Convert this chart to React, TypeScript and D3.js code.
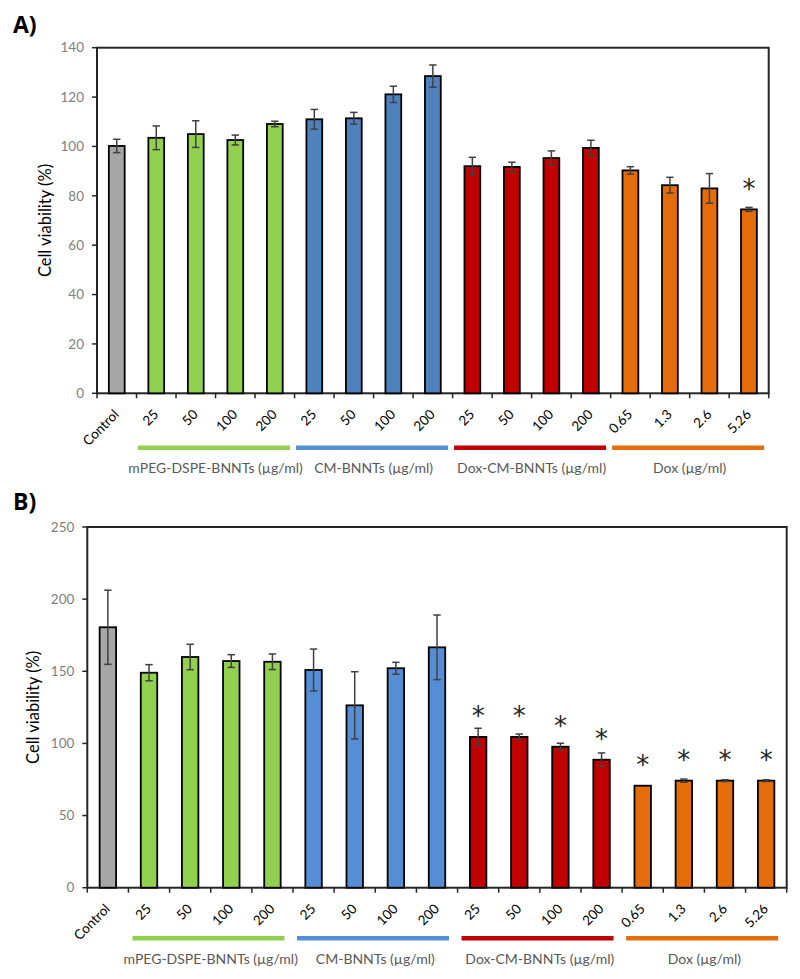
import React from "react";
import * as d3 from "d3";

const categories = ["Control", "25", "50", "100", "200", "25", "50", "100", "200", "25", "50", "100", "200", "0.65", "1.3", "2.6", "5.26"];
const groupOf = [0, 1, 1, 1, 1, 2, 2, 2, 2, 3, 3, 3, 3, 4, 4, 4, 4];
const groupNames = ["mPEG-DSPE-BNNTs (µg/ml)", "CM-BNNTs (µg/ml)", "Dox-CM-BNNTs (µg/ml)", "Dox (µg/ml)"];

const valuesA = [100.2, 103.5, 105.0, 102.6, 109.1, 111.0, 111.4, 121.1, 128.5, 92.0, 91.7, 95.3, 99.4, 90.3, 84.3, 83.0, 74.5];
const errorsA = [2.7, 4.8, 5.4, 2.0, 1.1, 4.0, 2.4, 3.3, 4.5, 3.6, 1.9, 2.9, 3.1, 1.5, 3.2, 6.0, 0.8];
const starsA: (number | null)[] = [null, null, null, null, null, null, null, null, null, null, null, null, null, null, null, null, 85.7];
const ticksA = [0, 20, 40, 60, 80, 100, 120, 140];

const valuesB = [180.5, 149.0, 159.9, 157.1, 156.6, 150.9, 126.4, 152.1, 166.6, 104.5, 104.5, 97.7, 88.7, 70.7, 74.2, 74.2, 74.2];
const errorsB = [25.7, 5.6, 8.8, 4.4, 5.4, 14.5, 23.3, 4.1, 22.4, 6.0, 2.0, 2.4, 4.7, 0, 1.1, 0.6, 0.6];
const starsB: (number | null)[] = [null, null, null, null, null, null, null, null, null, 123.6, 123.6, 116.9, 108.1, 89.7, 93.2, 93.2, 93.2];
const ticksB = [0, 50, 100, 150, 200, 250];

const FONT = "Lato, 'Open Sans', sans-serif";

type PanelProps = {
  label: string;
  labelY: number;
  left: number;
  top: number;
  right: number;
  bottom: number;
  ymax: number;
  ticks: number[];
  values: number[];
  errors: number[];
  stars: (number | null)[];
  blue: string;
  titleX: number;
  lineInset: number;
  lineDy: number;
  groupLabelDy: number;
};

function Panel(p: PanelProps) {
  const x = d3.scaleBand<number>().domain(d3.range(categories.length)).range([p.left, p.right]).paddingInner(0).paddingOuter(0);
  const y = d3.scaleLinear().domain([0, p.ymax]).range([p.bottom, p.top]);
  const bw = x.bandwidth() * 0.4;
  const colors = ["#A6A6A6", "#92D050", p.blue, "#C00000", "#E46C0A"];
  const lineColors = ["#92D050", "#558ED5", "#C00000", "#E46C0A"];
  const boundaries = d3.range(categories.length + 1).map((i) => p.left + i * x.step());
  return (
    <g>
      <text x={13} y={p.labelY} fontFamily="'Open Sans', Arial, sans-serif" fontWeight="bold" fontSize={23} fill="#000">{p.label}</text>
      <rect x={p.left} y={p.top} width={p.right - p.left} height={p.bottom - p.top} fill="none" stroke="#262626" strokeWidth={2} />
      {p.ticks.map((t) => (
        <g key={t}>
          <line x1={p.left - 5} x2={p.left} y1={y(t)} y2={y(t)} stroke="#262626" strokeWidth={1.5} />
          <text x={p.left - 13} y={y(t)} dy="0.35em" textAnchor="end" fontFamily={FONT} fontSize={13.5} fill="#7F7F7F">{t}</text>
        </g>
      ))}
      <text transform={`translate(${p.titleX},${(p.top + p.bottom) / 2}) rotate(-90)`} textAnchor="middle" dy="0.35em" fontFamily={FONT} fontSize={16.5} fill="#000">Cell viability (%)</text>
      {boundaries.map((b, i) => (
        <line key={i} x1={b} x2={b} y1={p.bottom} y2={p.bottom + 5} stroke="#262626" strokeWidth={1.5} />
      ))}
      {p.values.map((v, i) => {
        const cx = (x(i) as number) + x.bandwidth() / 2;
        return (
          <rect key={i} x={cx - bw / 2} y={y(v)} width={bw} height={p.bottom - y(v)} fill={colors[groupOf[i]]} stroke="#000" strokeWidth={1.8} />
        );
      })}
      {p.values.map((v, i) => {
        const e = p.errors[i];
        if (!e) return null;
        const cx = (x(i) as number) + x.bandwidth() / 2;
        return (
          <g key={i} stroke="#404040" strokeWidth={1.5}>
            <line x1={cx} x2={cx} y1={y(v + e)} y2={y(v - e)} />
            <line x1={cx - 3.7} x2={cx + 3.7} y1={y(v + e)} y2={y(v + e)} />
            <line x1={cx - 3.7} x2={cx + 3.7} y1={y(v - e)} y2={y(v - e)} />
          </g>
        );
      })}
      {p.stars.map((s, i) => {
        if (s === null) return null;
        const cx = (x(i) as number) + x.bandwidth() / 2;
        return (
          <text key={i} x={cx} y={y(s)} dy="0.62em" textAnchor="middle" fontFamily="'DejaVu Sans', sans-serif" fontSize={26} fill="#262626">*</text>
        );
      })}
      {categories.map((c, i) => {
        const cx = (x(i) as number) + x.bandwidth() / 2;
        return (
          <text key={i} transform={`translate(${cx + 3},${p.bottom + 22}) rotate(-45)`} textAnchor="end" fontFamily={FONT} fontSize={13.5} fill="#000">{c}</text>
        );
      })}
      {groupNames.map((g, gi) => {
        const idx = d3.range(categories.length).filter((i) => groupOf[i] === gi + 1);
        const x0 = x(idx[0]) as number;
        const x1 = (x(idx[idx.length - 1]) as number) + x.step();
        return (
          <g key={gi}>
            <line x1={x0 + p.lineInset} x2={x0 + p.lineInset + 152} y1={p.bottom + p.lineDy} y2={p.bottom + p.lineDy} stroke={lineColors[gi]} strokeWidth={4.5} />
            <text x={(x0 + x1) / 2} y={p.bottom + p.groupLabelDy} dy="0.35em" textAnchor="middle" fontFamily={FONT} fontSize={14} fill="#595959">{g}</text>
          </g>
        );
      })}
    </g>
  );
}

export default function App() {
  return (
    <svg width={800} height={979} style={{ position: "absolute", left: 0, top: 0, background: "#fff" }}>
      <rect width={800} height={979} fill="#fff" />
      <Panel label="A)" labelY={33} left={97} top={47.7} right={768.7} bottom={393.3} ymax={140} ticks={ticksA}
        values={valuesA} errors={errorsA} stars={starsA} blue="#4F81BD" titleX={45} lineInset={1.5} lineDy={54.4} groupLabelDy={74.7} />
      <Panel label="B)" labelY={510} left={87.3} top={527} right={786.7} bottom={887.7} ymax={250} ticks={ticksB}
        values={valuesB} errors={errorsB} stars={starsB} blue="#558ED5" titleX={33.3} lineInset={4} lineDy={50.6} groupLabelDy={71.3} />
    </svg>
  );
}
